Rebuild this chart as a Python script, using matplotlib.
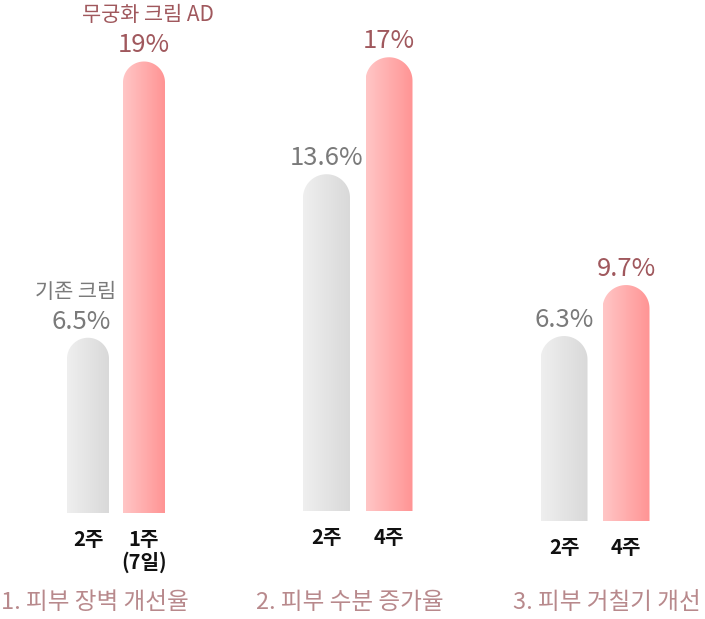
import numpy as np
import matplotlib
matplotlib.use('Agg')
import matplotlib.pyplot as plt
from matplotlib.path import Path
from matplotlib.patches import PathPatch
from matplotlib.colors import LinearSegmentedColormap

plt.rcParams['font.family'] = ['Noto Sans CJK KR', 'DejaVu Sans']

# chart data
categories = ['1. 피부 장벽 개선율', '2. 피부 수분 증가율', '3. 피부 거칠기 개선']
series_names = ['기존 크림', '무궁화 크림 AD']
old_values = [6.5, 13.6, 6.3]
new_values = [19, 17, 9.7]
old_periods = ['2주', '2주', '2주']
new_periods = ['1주\n(7일)', '4주', '4주']

# layout, in pixels of a 705x619 canvas
W, H = 705, 619
bar_x = [(88, 144), (326.5, 389), (564, 626)]
bar_w = [42, 47, 47]
base_px = [513, 511, 521]
axis_floor = [-1.43, 3.81, -6.03]   # value that sits on each group's baseline
px_per_pct = [22.1, 34.4, 15.0]
cat_x = [95, 350, 607]

gray_cmap = LinearSegmentedColormap.from_list('gray_bar', ['#efefef', '#d9d9d9'])
pink_cmap = LinearSegmentedColormap.from_list('pink_bar', ['#ffc6c6', '#ff9494'])
pink_text = '#a0585d'
gray_text = '#7a7a7a'
cat_text = '#b8898c'

fig = plt.figure(figsize=(W / 100, H / 100), dpi=100)
grad = np.linspace(0, 1, 256).reshape(1, -1)


def round_bar(ax, xc, w, lo, top, ry, cmap):
    # bar with a half-round cap, filled with a left-to-right gradient
    x0, x1 = xc - w / 2, xc + w / 2
    t = np.linspace(0, np.pi, 60)
    arc = list(zip(xc + (w / 2) * np.cos(t), (top - ry) + ry * np.sin(t)))
    verts = [(x0, lo), (x1, lo)] + arc + [(x0, lo)]
    codes = [Path.MOVETO] + [Path.LINETO] * (len(verts) - 2) + [Path.CLOSEPOLY]
    patch = PathPatch(Path(verts, codes), facecolor='none', edgecolor='none')
    ax.add_patch(patch)
    im = ax.imshow(grad, cmap=cmap, extent=[x0, x1, lo, top], aspect='auto',
                   origin='lower', zorder=2, interpolation='bilinear')
    im.set_clip_path(patch)


for i in range(3):
    lo, ppp, base = axis_floor[i], px_per_pct[i], base_px[i]
    ax = fig.add_axes([0, 0, 1, 1])
    ax.axis('off')
    ax.set_autoscale_on(False)
    ax.set_xlim(0, W)
    ax.set_ylim(lo - (H - base) / ppp, lo + base / ppp)

    vals = [old_values[i], new_values[i]]
    periods = [old_periods[i], new_periods[i]]
    cmaps = [gray_cmap, pink_cmap]
    colors = [gray_text, pink_text]
    for j in range(2):
        xc = bar_x[i][j]
        w = bar_w[i]
        ry = (w / 2) / ppp
        round_bar(ax, xc, w, lo, vals[j], ry, cmaps[j])

        dx = -7 if (i == 0 and j == 0) else 0
        ax.annotate(f'{vals[j]:g}%', xy=(xc, vals[j]), xytext=(dx, 9),
                    textcoords='offset pixels', ha='center', va='baseline',
                    fontsize=18.5, color=colors[j])
        # period label under the bar, extra lines stacked below
        for k, line in enumerate(periods[j].split('\n')):
            ax.annotate(line, xy=(xc, lo), xytext=(0, -33 - 23 * k),
                        textcoords='offset pixels', ha='center', va='baseline',
                        fontsize=14.5, fontweight='bold', color='#111111')

    if i == 0:
        ax.annotate(series_names[0], xy=(bar_x[0][0], old_values[0]), xytext=(-12, 40),
                    textcoords='offset pixels', ha='center', va='baseline',
                    fontsize=15, color=gray_text)
        ax.annotate(series_names[1], xy=(bar_x[0][1], new_values[0]), xytext=(4, 40),
                    textcoords='offset pixels', ha='center', va='baseline',
                    fontsize=15, color=pink_text)

    fig.text(cat_x[i] / W, (H - 609) / H, categories[i], ha='center', va='baseline',
             fontsize=17, color=cat_text, fontweight='light')

fig.savefig('out.png', dpi=100)
